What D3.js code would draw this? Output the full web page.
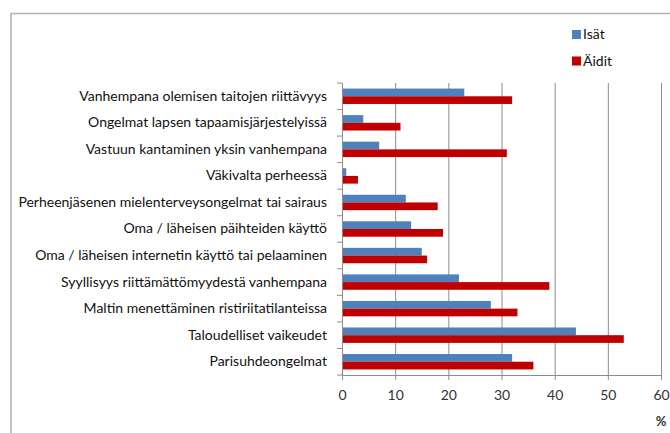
<!DOCTYPE html>
<html>
<head>
<meta charset="utf-8">
<script src="https://d3js.org/d3.v7.min.js"></script>
<style>
body { margin: 0; background: #fff; }
svg { display: block; }
.cat text { font-family: Lato, sans-serif; font-size: 14px; fill: #111; }
.xax text { font-family: Lato, sans-serif; font-size: 14px; fill: #333; }
.legend text { font-family: Lato, sans-serif; font-size: 14px; fill: #111; }
</style>
</head>
<body>
<script>
var categories = [
  "Vanhempana olemisen taitojen riittävyys",
  "Ongelmat lapsen tapaamisjärjestelyissä",
  "Vastuun kantaminen yksin vanhempana",
  "Väkivalta perheessä",
  "Perheenjäsenen mielenterveysongelmat tai sairaus",
  "Oma / läheisen päihteiden käyttö",
  "Oma / läheisen internetin käyttö tai pelaaminen",
  "Syyllisyys riittämättömyydestä vanhempana",
  "Maltin menettäminen ristiriitatilanteissa",
  "Taloudelliset vaikeudet ",
  "Parisuhdeongelmat"
];
var isat  = [23, 4, 7, 0.8, 12, 13, 15, 22, 28, 44, 32];
var aidit = [32, 11, 31, 3, 18, 19, 16, 39, 33, 53, 36];
var seriesNames = ["Isät", "Äidit"];
var xTicks = [0, 10, 20, 30, 40, 50, 60];

var W = 670, H = 433;
var plotL = 342, plotR = 661, plotT = 83, plotB = 375;

var data = categories.map(function(c, i) { return { cat: c, vals: [isat[i], aidit[i]] }; });

var svg = d3.select("body").append("svg").attr("width", W).attr("height", H);

// frame
svg.append("path").attr("d", "M11,433V13.5H670")
  .attr("fill", "none").attr("stroke", "#b4b4b4").attr("stroke-width", 1.6);

var x = d3.scaleLinear().domain([0, 60]).range([plotL, plotR]);
var y = d3.scaleBand().domain(categories).range([plotT, plotB]).padding(0);
var y1 = d3.scaleBand().domain(seriesNames)
  .range([(y.bandwidth() - 15.4) / 2, (y.bandwidth() + 15.4) / 2]);
var color = d3.scaleOrdinal().domain(seriesNames).range(["#4f81bd", "#c00000"]);

// gridlines
svg.append("g")
  .attr("transform", "translate(0," + plotB + ")")
  .call(d3.axisBottom(x).tickValues(xTicks.slice(1)).tickSize(-(plotB - plotT)).tickFormat(""))
  .call(function(g) {
    g.select(".domain").remove();
    g.selectAll("line").attr("stroke", "#8c8c8c");
  });

// bars
var rows = svg.append("g").selectAll("g").data(data).enter().append("g")
  .attr("transform", function(d) { return "translate(0," + y(d.cat) + ")"; });
rows.selectAll("rect").data(function(d) {
    return d.vals.map(function(v, j) { return { s: seriesNames[j], v: v }; });
  }).enter().append("rect")
  .attr("x", x(0))
  .attr("y", function(d) { return y1(d.s); })
  .attr("height", y1.bandwidth())
  .attr("width", function(d) { return x(d.v) - x(0); })
  .attr("fill", function(d) { return color(d.s); });

// x axis
svg.append("g").attr("class", "xax")
  .attr("transform", "translate(0," + plotB + ")")
  .call(d3.axisBottom(x).tickValues(xTicks).tickSize(5).tickPadding(10))
  .call(function(g) {
    g.select(".domain").attr("stroke", "#8c8c8c").attr("d", "M" + plotL + ",0.5H" + plotR);
    g.selectAll("line").attr("stroke", "#8c8c8c");
    g.selectAll("text").attr("font-family", null).attr("font-size", null);
  });

// y axis
svg.append("g").attr("class", "cat")
  .attr("transform", "translate(" + plotL + ",0)")
  .call(d3.axisLeft(y).tickSize(0).tickPadding(15))
  .call(function(g) {
    g.select(".domain").remove();
    g.selectAll("text").attr("font-family", null).attr("font-size", null);
  });
var edges = categories.map(function(c) { return y(c); }).concat([y.range()[1]]);
svg.append("g").selectAll("line").data(edges).enter().append("line")
  .attr("x1", plotL - 5).attr("x2", plotL)
  .attr("y1", function(d) { return d; }).attr("y2", function(d) { return d; })
  .attr("stroke", "#8c8c8c");
svg.append("line").attr("x1", plotL + 0.5).attr("x2", plotL + 0.5)
  .attr("y1", plotT).attr("y2", plotB).attr("stroke", "#8c8c8c");

// unit label
svg.append("text").attr("x", x(60)).attr("y", 426)
  .attr("text-anchor", "middle")
  .style("font-family", "Lato, sans-serif").style("font-size", "13px")
  .style("font-weight", "bold").style("fill", "#333").text("%");

// legend
var lg = svg.append("g").attr("class", "legend").selectAll("g").data(seriesNames).enter().append("g")
  .attr("transform", function(d, i) { return "translate(572," + (30 + i * 26.5) + ")"; });
lg.append("rect").attr("width", 9).attr("height", 9).attr("fill", function(d) { return color(d); });
lg.append("text").attr("x", 11).attr("y", 4.5).attr("dy", "0.35em").text(function(d) { return d; });
</script>
</body>
</html>
